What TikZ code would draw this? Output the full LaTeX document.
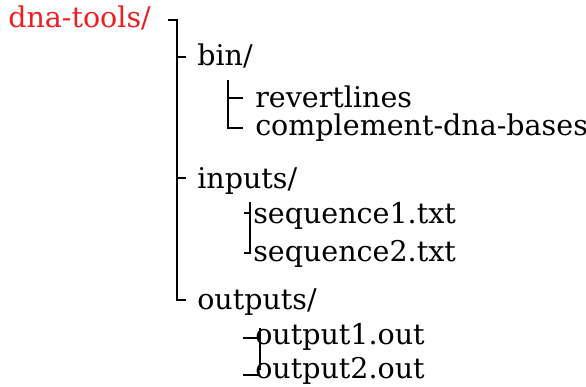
\documentclass[tikz,border=0pt]{standalone}
\usepackage{fontspec}
\setmainfont{DejaVu Serif}
\definecolor{dirred}{RGB}{236,30,36}
\tikzset{
  entry/.style={anchor=base west, inner sep=0pt, font=\fontsize{21.4}{26}\selectfont},
  rootentry/.style={entry, text=dirred},
  branch/.style={line width=1.9pt}
}
\begin{document}
\begin{tikzpicture}[x=0.75pt,y=-0.75pt]
  \useasboundingbox (0,0) rectangle (586,386);

  % Entries
  \node[rootentry] (root) at (8,27) {dna-tools/};
  \node[entry] (bin) at (197,65) {bin/};
  \node[entry] (revert) at (255,107) {revertlines};
  \node[entry] (compl) at (255,135) {complement-dna-bases};
  \node[entry] (inputs) at (197,188) {inputs/};
  \node[entry] (seqa) at (253,223) {sequence1.txt};
  \node[entry] (seqb) at (253,261) {sequence2.txt};
  \node[entry] (outputs) at (197,309) {outputs/};
  \node[entry] (outa) at (255,344) {output1.out};
  \node[entry] (outb) at (255,378) {output2.out};

  % Branch points
  \coordinate (rootA) at (168,20);
  \coordinate (rootB) at (177,20);
  \coordinate (rootC) at (177,300);
  \coordinate (rootD) at (186,300);
  \coordinate (binA) at (177,57);
  \coordinate (inA) at (177,178);
  \coordinate (binB) at (228,80);
  \coordinate (binC) at (228,128);
  \coordinate (binD) at (228,98);
  \coordinate (inB) at (250,202);
  \coordinate (inC) at (250,253);
  \coordinate (inD) at (250,213);
  \coordinate (outA) at (260,328);
  \coordinate (outB) at (260,370);

  % Tree lines
  \draw[branch] (rootA) -- (rootB) -- (rootC) -- (rootD);
  \draw[branch] (binA) -- ++(9,0);
  \draw[branch] (inA) -- ++(9,0);
  \draw[branch] (binB) -- (binC) -- ++(15,0);
  \draw[branch] (binD) -- ++(15,0);
  \draw[branch] (inB) -- (inC) -- ++(-6,0);
  \draw[branch] (inD) -- ++(-6,0);
  \draw[branch] (outA) -- (outB);
  \draw[branch] (outA |- 0,338) ++(-17,0) -- ++(17,0);
  \draw[branch] (outA |- 0,375) ++(-17,0) -- ++(17,0);
\end{tikzpicture}
\end{document}
